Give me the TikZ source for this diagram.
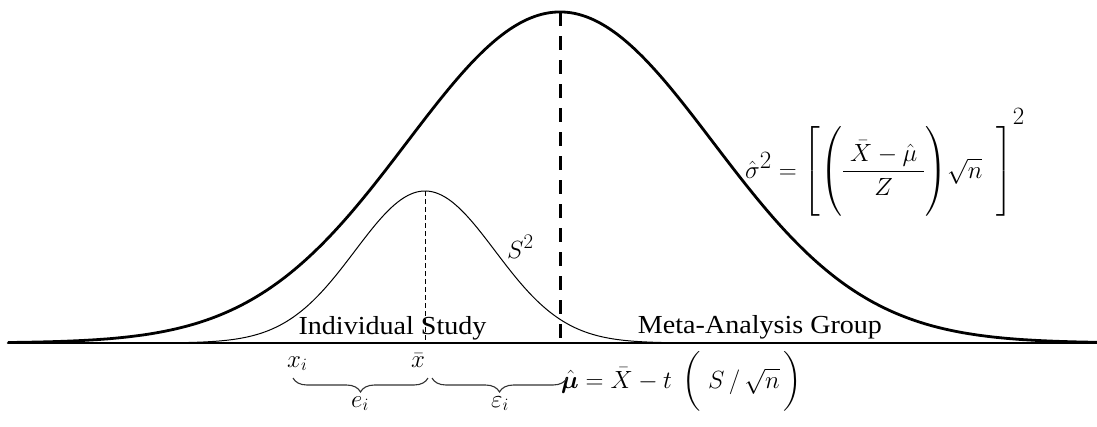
\documentclass[tikz,border=0pt]{standalone}
\usepackage{amsmath,bm}
\usepackage{fontspec}
\setmainfont{Liberation Serif}
\newfontfamily\labfont[FakeStretch=1.08]{Liberation Serif}
\usetikzlibrary{decorations.pathreplacing}
\tikzset{
  axisline/.style={line width=2.6pt, line cap=round},
  bigcurve/.style={line width=2.8pt, smooth},
  smallcurve/.style={line width=1pt, smooth},
  bigdash/.style={line width=3pt, dash pattern=on 14pt off 10pt},
  smalldash/.style={line width=1pt, dash pattern=on 5pt off 3pt},
  lab/.style={inner sep=0pt, font=\labfont\fontsize{26}{30}\selectfont},
  mlab/.style={inner sep=0pt, font=\fontsize{27}{32}\selectfont},
  bigmath/.style={inner sep=0pt, font=\fontsize{33}{38}\selectfont},
  bracestyle/.style={line width=1.1pt, color=black!80, decorate, decoration={brace, mirror, amplitude=14pt}}
}
\begin{document}
\begin{tikzpicture}[x=1pt,y=-1pt]
\useasboundingbox (0,0) rectangle (1097,426);
% axis
\coordinate (axL) at (8,343);
\coordinate (axR) at (1097,343);
\draw[axisline] (axL) -- (axR);
% curves
\draw[bigcurve] plot[domain=8:1097, samples=220] (\x, {343-331*exp(-0.5*((\x-560)/153)^2)});
\draw[smallcurve] plot[domain=185:690, samples=160] (\x, {343-152*exp(-0.5*((\x-425)/70)^2)});
% dashed verticals
\coordinate (bigtop) at (560,12);
\coordinate (bigbot) at (560,342);
\coordinate (smalltop) at (425,191);
\coordinate (smallbot) at (425,343);
\draw[bigdash] (bigtop) -- (bigbot);
\draw[smalldash] (smalltop) -- (smallbot);
% labels
\node[lab, anchor=base] (indiv) at (392.5,334) {Individual Study};
\node[lab, anchor=base] (meta) at (760,333) {Meta-Analysis Group};
\node[mlab, anchor=base west, font=\fontsize{29}{34}\selectfont] (s2) at (507,258) {$S^2$};
\node[bigmath, anchor=base west] (sig) at (745,178)
  {$\hat{\sigma}^2=\left[\left(\dfrac{\;\bar{X}-\hat{\mu}\;}{Z}\rule[-38pt]{0pt}{86pt}\right)\!\sqrt{n}\;\;\right]^{\raisebox{12pt}{$\textstyle 2$}}$};
\node[bigmath, anchor=base west, font=\fontsize{31}{36}\selectfont] (mu) at (561,388)
  {$\hat{\bm{\mu}}=\bar{X}-t\;\left(\;S\,/\,\sqrt{n}\rule[-17pt]{0pt}{52pt}\,\right)$};
\node[mlab, anchor=base west] (xi) at (287,367) {$x_i$};
\node[mlab, anchor=base] (xbar) at (418,367) {$\bar{x}$};
\node[mlab, anchor=base] (ei) at (360,407) {$e_i$};
\node[mlab, anchor=base] (epsi) at (500,407) {$\varepsilon_i$};
% braces
\coordinate (b1l) at (293,378);
\coordinate (b1r) at (428,378);
\coordinate (b2l) at (432,378);
\coordinate (b2r) at (567,378);
\draw[bracestyle] (b1l) -- (b1r);
\draw[bracestyle] (b2l) -- (b2r);
\end{tikzpicture}
\end{document}
